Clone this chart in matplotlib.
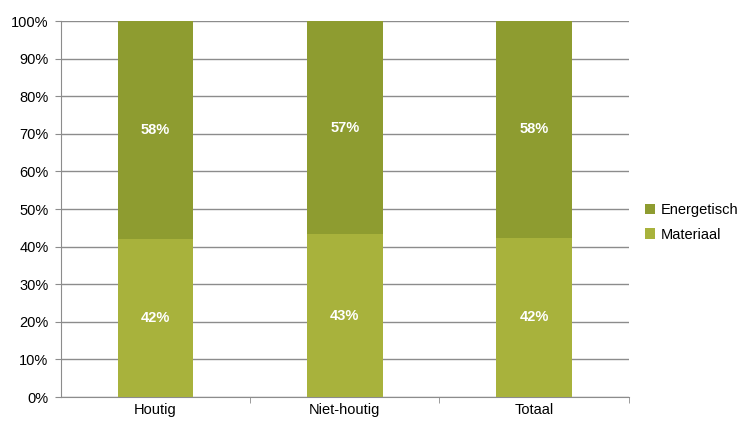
import matplotlib.pyplot as plt
from matplotlib.ticker import PercentFormatter

categories = ['Houtig', 'Niet-houtig', 'Totaal']
materiaal = [42.1, 43.3, 42.4]
energetisch = [57.9, 56.7, 57.6]

plt.rcParams['font.family'] = ['Liberation Sans', 'DejaVu Sans']

C_MAT = '#a8b23c'
C_ENE = '#8e9c30'
FS = 10.5

fig = plt.figure(figsize=(7.4, 4.21), dpi=100)
ax = fig.add_axes([0.0824, 0.057, 0.7672, 0.893])

x = range(len(categories))
ax.bar(x, materiaal, width=0.4, color=C_MAT, label='Materiaal', zorder=3)
ax.bar(x, energetisch, width=0.4, bottom=materiaal, color=C_ENE, label='Energetisch', zorder=3)

for i in x:
    ax.text(i, materiaal[i] / 2, f'{round(materiaal[i])}%', ha='center', va='center',
            color='white', fontsize=FS, fontweight='bold', zorder=4)
    ax.text(i, materiaal[i] + energetisch[i] / 2, f'{round(energetisch[i])}%', ha='center',
            va='center', color='white', fontsize=FS, fontweight='bold', zorder=4)

ax.set_xlim(-0.5, 2.5)
ax.set_ylim(0, 100)
ax.set_yticks(range(0, 101, 10))
ax.yaxis.set_major_formatter(PercentFormatter(decimals=0))
ax.yaxis.grid(True, color='#8c8c8c', linewidth=1)
ax.set_axisbelow(True)

ax.set_xticks(list(x))
ax.set_xticklabels(categories)
ax.set_xticks([0.5, 1.5, 2.5], minor=True)
ax.tick_params(axis='x', which='major', length=0, labelsize=FS, pad=4)
ax.tick_params(axis='x', which='minor', length=4, color='#8c8c8c', direction='out')
ax.tick_params(axis='y', length=4, color='#8c8c8c', labelsize=FS, pad=5)

for s in ['top', 'right']:
    ax.spines[s].set_visible(False)
for s in ['left', 'bottom']:
    ax.spines[s].set_color('#8c8c8c')

handles, labels = ax.get_legend_handles_labels()
ax.legend(handles[::-1], labels[::-1], loc='center left', bbox_to_anchor=(1.005, 0.465),
          frameon=False, fontsize=FS, handlelength=0.7, handleheight=0.7,
          handletextpad=0.4, labelspacing=0.75)

fig.savefig('out.png', dpi=100)
